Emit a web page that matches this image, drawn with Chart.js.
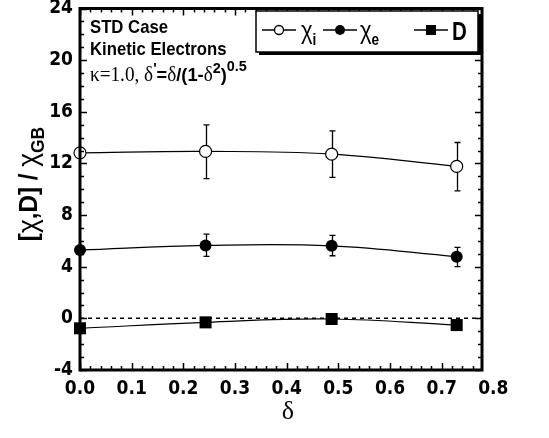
<!DOCTYPE html>
<html><head><meta charset="utf-8">
<script src="https://cdn.jsdelivr.net/npm/chart.js@4/dist/chart.umd.min.js"></script>
<style>html,body{margin:0;padding:0;background:#fff}canvas{display:block}</style>
</head><body>
<canvas id="c" width="549" height="438"></canvas>
<script>
// ---- data ----
const delta = [0, 0.243, 0.487, 0.729];
const chiI = [12.82, 12.93, 12.72, 11.77];
const chiIErrLo = [null, 10.82, 10.92, 9.87];
const chiIErrHi = [null, 14.98, 14.52, 13.62];
const chiE = [5.29, 5.65, 5.62, 4.78];
const chiEErrLo = [null, 4.80, 4.85, 4.00];
const chiEErrHi = [null, 6.52, 6.42, 5.50];
const D = [-0.77, -0.31, -0.05, -0.52];
const xTickLabels = [0, 0.1, 0.2, 0.3, 0.4, 0.5, 0.6, 0.7, 0.8];
const yTickLabels = [-4, 0, 4, 8, 12, 16, 20, 24];
const xRange = [0, 0.778];
const yRange = [-4, 24];

const NARROW = '"Liberation Sans Narrow", "DejaVu Sans Condensed", "Liberation Sans", sans-serif';
const SANS = '"Liberation Sans", Arial, sans-serif';
const SERIF = '"Liberation Serif", "Times New Roman", serif';

function pts(ys) { return delta.map((x, i) => ({x, y: ys[i]})); }

// draws text runs with optional horizontal compression sx
function drawRuns(ctx, x, y, runs, sx) {
  sx = sx || 1;
  ctx.save();
  ctx.translate(x, y);
  ctx.scale(sx, 1);
  let cx = 0;
  for (const r of runs) {
    ctx.font = r.f;
    ctx.fillText(r.t, cx, (r.dy || 0));
    cx += ctx.measureText(r.t).width + (r.sp || 0);
  }
  ctx.restore();
  return cx * sx;
}
function runsWidth(ctx, runs, sx) {
  let w = 0;
  for (const r of runs) { ctx.font = r.f; w += ctx.measureText(r.t).width + (r.sp || 0); }
  return w * (sx || 1);
}

const errPlugin = {
  id: 'err',
  beforeDatasetsDraw(chart) {
    const {ctx, scales: {x, y}} = chart;
    ctx.save();
    ctx.strokeStyle = '#000';
    ctx.lineWidth = 1.3;
    const sets = [[chiIErrLo, chiIErrHi], [chiEErrLo, chiEErrHi]];
    for (const [lo, hi] of sets) {
      delta.forEach((d, i) => {
        if (lo[i] == null) return;
        const px = Math.round(x.getPixelForValue(d)) + 0.5;
        const p1 = y.getPixelForValue(lo[i]);
        const p2 = y.getPixelForValue(hi[i]);
        ctx.beginPath();
        ctx.moveTo(px, p1); ctx.lineTo(px, p2);
        ctx.moveTo(px - 3, p1); ctx.lineTo(px + 3, p1);
        ctx.moveTo(px - 3, p2); ctx.lineTo(px + 3, p2);
        ctx.stroke();
      });
    }
    // dashed zero line
    const y0 = y.getPixelForValue(0);
    ctx.setLineDash([4, 4]);
    ctx.lineWidth = 1.5;
    ctx.beginPath();
    ctx.moveTo(chart.chartArea.left, y0);
    ctx.lineTo(chart.chartArea.right, y0);
    ctx.stroke();
    ctx.restore();
  }
};

const framePlugin = {
  id: 'frame',
  afterDraw(chart) {
    const {ctx, chartArea: a, scales: {x, y}} = chart;
    ctx.save();
    ctx.strokeStyle = '#000';
    ctx.lineWidth = 1.5;
    // ticks
    ctx.beginPath();
    for (let v = 0; v <= xRange[1] + 1e-9; v += 0.02) {
      const major = Math.abs(v * 10 - Math.round(v * 10)) < 1e-6;
      const len = major ? 7 : 4;
      const px = Math.round(x.getPixelForValue(v)) + 0.5;
      ctx.moveTo(px, a.bottom); ctx.lineTo(px, a.bottom - len);
      ctx.moveTo(px, a.top); ctx.lineTo(px, a.top + len);
    }
    for (let v = yRange[0]; v <= yRange[1]; v += 1) {
      const major = v % 4 === 0;
      const len = major ? 7 : 4;
      const py = Math.round(y.getPixelForValue(v)) + 0.5;
      ctx.moveTo(a.left, py); ctx.lineTo(a.left + len, py);
      ctx.moveTo(a.right, py); ctx.lineTo(a.right - len, py);
    }
    ctx.stroke();
    ctx.lineWidth = 3;
    ctx.strokeRect(a.left, a.top, a.right - a.left, a.bottom - a.top);

    // annotations
    ctx.fillStyle = '#000';
    ctx.textBaseline = 'alphabetic';
    ctx.textAlign = 'left';
    drawRuns(ctx, 90, 33, [{t: 'STD Case', f: 'bold 19px ' + SANS}], 0.88);
    drawRuns(ctx, 90, 55, [{t: 'Kinetic Electrons', f: 'bold 19px ' + SANS}], 0.88);
    drawRuns(ctx, 90, 81, [
      {t: 'κ=1.0, δ', f: '20px ' + SERIF},
      {t: "'", f: 'bold 15px ' + SANS, dy: -8},
      {t: '=', f: 'bold 19px ' + SANS},
      {t: 'δ', f: '20px ' + SERIF},
      {t: '/(1-', f: 'bold 19px ' + SANS},
      {t: 'δ', f: '20px ' + SERIF},
      {t: '2', f: 'bold 15px ' + SANS, dy: -8},
      {t: ')', f: 'bold 19px ' + SANS},
      {t: '0.5', f: 'bold 15px ' + SANS, dy: -10}
    ], 0.96);

    // legend box
    const bx = 256, by = 11, bw = 222, bh = 41;
    ctx.fillRect(bx + 3, by + 3, bw, bh);
    ctx.fillStyle = '#fff';
    ctx.fillRect(bx, by, bw, bh);
    ctx.lineWidth = 1.5;
    ctx.strokeRect(bx, by, bw, bh);
    ctx.fillStyle = '#000';
    const ly = 30;
    const item = (x1, x2, kind) => {
      ctx.lineWidth = 1.3;
      ctx.beginPath(); ctx.moveTo(x1, ly); ctx.lineTo(x2, ly); ctx.stroke();
      const cx = (x1 + x2) / 2;
      ctx.beginPath();
      if (kind === 'open') {
        ctx.arc(cx, ly, 4.5, 0, Math.PI * 2);
        ctx.fillStyle = '#fff'; ctx.fill(); ctx.stroke();
      } else if (kind === 'dot') {
        ctx.arc(cx, ly, 5, 0, Math.PI * 2);
        ctx.fillStyle = '#000'; ctx.fill();
      } else {
        ctx.fillStyle = '#000'; ctx.fillRect(cx - 5, ly - 5, 10, 10);
      }
      ctx.fillStyle = '#000';
    };
    item(262, 296, 'open');
    drawRuns(ctx, 301, 39, [
      {t: 'χ', f: '26px ' + SANS},
      {t: 'i', f: 'bold 16px ' + SANS, dy: 6}
    ], 0.85);
    item(323, 357, 'dot');
    drawRuns(ctx, 360, 39, [
      {t: 'χ', f: '26px ' + SANS},
      {t: 'e', f: 'bold 16px ' + SANS, dy: 6}
    ], 0.85);
    item(414, 448, 'rect');
    drawRuns(ctx, 452, 40, [{t: 'D', f: 'bold 25px ' + SANS}], 0.82);

    // y-axis title
    ctx.save();
    ctx.translate(37, 184);
    ctx.rotate(-Math.PI / 2);
    const yr = [
      {t: '[', f: 'bold 25px ' + SANS},
      {t: 'χ', f: '27px ' + SANS},
      {t: ',D] / ', f: 'bold 25px ' + SANS},
      {t: 'χ', f: '27px ' + SANS},
      {t: 'GB', f: 'bold 18px ' + SANS, dy: 7}
    ];
    drawRuns(ctx, -runsWidth(ctx, yr, 0.97) / 2, 0, yr, 0.97);
    ctx.restore();

    // x-axis title
    ctx.font = '26px ' + SERIF;
    ctx.textAlign = 'center';
    ctx.fillText('δ', 288, 419);
    ctx.restore();
  }
};

const tickFont = {family: NARROW, size: 19, weight: 'bold'};

new Chart(document.getElementById('c'), {
  type: 'scatter',
  data: {
    datasets: [
      {label: 'χi', data: pts(chiI), showLine: true, tension: 0.4, borderColor: '#000', borderWidth: 1.2,
       pointStyle: 'circle', pointRadius: 6, pointBackgroundColor: '#fff', pointBorderColor: '#000', pointBorderWidth: 1.2},
      {label: 'χe', data: pts(chiE), showLine: true, tension: 0.4, borderColor: '#000', borderWidth: 1.2,
       pointStyle: 'circle', pointRadius: 6, pointBackgroundColor: '#000', pointBorderColor: '#000', pointBorderWidth: 0},
      {label: 'D', data: pts(D), showLine: true, tension: 0.4, borderColor: '#000', borderWidth: 1.2,
       pointStyle: 'rect', pointRadius: 8.5, pointBackgroundColor: '#000', pointBorderColor: '#000', pointBorderWidth: 0}
    ]
  },
  options: {
    responsive: false,
    devicePixelRatio: 1,
    animation: false,
    clip: false,
    layout: {padding: {top: 8, right: 67, left: 0, bottom: 0}},
    plugins: {legend: {display: false}, tooltip: {enabled: false}},
    scales: {
      x: {
        type: 'linear', min: xRange[0], max: xRange[1],
        grid: {display: false, drawTicks: false},
        border: {display: false},
        afterBuildTicks: s => { s.ticks = xTickLabels.map(v => ({value: v})); },
        afterFit: s => { s.height = 68; s.paddingLeft = 0; s.paddingRight = 0; },
        ticks: {autoSkip: false, maxRotation: 0, padding: 8, color: '#000', font: tickFont,
          callback: v => Number(v).toFixed(1)}
      },
      y: {
        type: 'linear', min: yRange[0], max: yRange[1],
        grid: {display: false, drawTicks: false},
        border: {display: false},
        afterBuildTicks: s => { s.ticks = yTickLabels.map(v => ({value: v})); },
        afterFit: s => { s.width = 80; s.paddingTop = 0; s.paddingBottom = 0; },
        ticks: {autoSkip: false, padding: 7, color: '#000', font: tickFont}
      }
    }
  },
  plugins: [errPlugin, framePlugin]
});
</script>
</body></html>
